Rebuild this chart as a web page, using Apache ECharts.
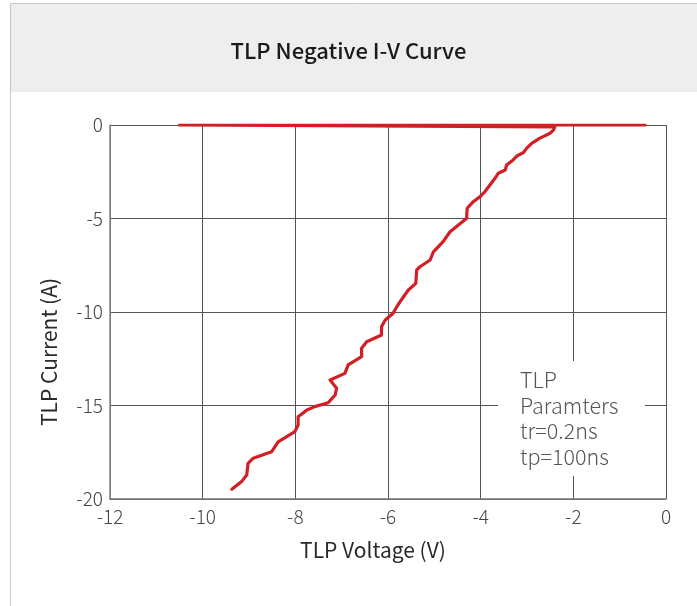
<!DOCTYPE html>
<html>
<head>
<meta charset="utf-8">
<script src="https://cdn.jsdelivr.net/npm/echarts@6/dist/echarts.min.js"></script>
<style>
html,body{margin:0;padding:0;background:#fff;}
#c{width:697px;height:606px;}
</style>
</head>
<body>
<div id="c"></div>
<script>
var voltage = [-0.45, -10.5, -2.4, -2.38, -2.43, -2.50, -2.72, -2.90, -3.01, -3.08, -3.22, -3.30, -3.44, -3.47, -3.62, -3.69, -3.80, -3.91, -4.01, -4.16, -4.29, -4.30, -4.30, -4.66, -4.81, -5.02, -5.09, -5.31, -5.38, -5.40, -5.56, -5.74, -5.81, -5.89, -6.06, -6.14, -6.14, -6.46, -6.57, -6.57, -6.86, -6.93, -7.25, -7.11, -7.14, -7.29, -7.58, -7.75, -7.94, -7.94, -8.01, -8.37, -8.51, -8.91, -9.02, -9.05, -9.16, -9.37];
var current = [0, 0, -0.1, -0.18, -0.27, -0.44, -0.70, -0.98, -1.25, -1.48, -1.66, -1.87, -2.14, -2.41, -2.58, -2.85, -3.21, -3.57, -3.83, -4.10, -4.45, -4.81, -4.99, -5.71, -6.24, -6.78, -7.22, -7.58, -7.75, -8.47, -8.82, -9.45, -9.72, -10.07, -10.43, -10.79, -11.23, -11.59, -11.94, -12.39, -12.83, -13.28, -13.64, -14.08, -14.44, -14.85, -15.06, -15.24, -15.60, -16.04, -16.40, -16.94, -17.47, -17.82, -18.09, -18.72, -19.07, -19.48];
var xTicks = [-12, -10, -8, -6, -4, -2, 0];
var yTicks = [0, -5, -10, -15, -20];
var noteLines = ['TLP', 'Paramters', 'tr=0.2ns', 'tp=100ns'];
var xName = 'TLP Voltage (V)';
var yName = 'TLP Current (A)';

var pts = voltage.map(function (v, i) { return [v, current[i]]; });
var FONT = '"Noto Sans CJK SC", "Noto Sans", sans-serif';

var chart = echarts.init(document.getElementById('c'), null, {renderer: 'canvas'});
chart.setOption({
  animation: false,
  backgroundColor: '#ffffff',
  title: {
    text: 'TLP Negative I-V Curve',
    left: 'center',
    top: 35,
    textStyle: {fontFamily: FONT, fontSize: 22, fontWeight: 500, color: '#1a1a1a'}
  },
  grid: {left: 110, right: 31, top: 125, bottom: 107},
  xAxis: {
    type: 'value', min: xTicks[0], max: xTicks[xTicks.length - 1], interval: 2,
    name: '',
    axisLine: {show: true, onZero: false, lineStyle: {color: '#777', width: 1.5}},
    axisTick: {show: false},
    axisLabel: {fontFamily: FONT, fontSize: 19, fontWeight: 300, color: '#444', margin: 8},
    splitLine: {show: true, lineStyle: {color: '#555', width: 1}}
  },
  yAxis: {
    type: 'value', min: yTicks[yTicks.length - 1], max: yTicks[0], interval: 5,
    name: '',
    axisLine: {show: true, onZero: false, lineStyle: {color: '#888', width: 1.5}},
    axisTick: {show: false},
    axisLabel: {fontFamily: FONT, fontSize: 19, fontWeight: 300, color: '#444', margin: 7},
    splitLine: {show: true, lineStyle: {color: '#555', width: 1}}
  },
  graphic: [
    {type: 'rect', z: -10, silent: true, shape: {x: 10.5, y: 3.5, width: 700, height: 620}, style: {fill: '#fff', stroke: '#c8c8c8', lineWidth: 1}},
    {type: 'rect', z: -9, silent: true, shape: {x: 11, y: 4, width: 700, height: 88}, style: {fill: '#eeeeee'}},
    {type: 'text', z: 6, silent: true, x: 373, y: 550,
      style: {text: xName, fontFamily: FONT, fontSize: 21, fill: '#2a2a2a', textAlign: 'center', textVerticalAlign: 'middle'}},
    {type: 'text', z: 6, silent: true, x: 49, y: 352, rotation: Math.PI / 2,
      style: {text: yName, fontFamily: FONT, fontSize: 21, fill: '#2a2a2a', textAlign: 'center', textVerticalAlign: 'middle'}},
    {type: 'rect', z: 5, silent: true, shape: {x: 498, y: 361, width: 147, height: 115}, style: {fill: '#ffffff'}},
    {type: 'text', z: 6, silent: true, left: 520, top: 367,
      style: {text: noteLines.join('\n'), fontFamily: FONT, fontSize: 21.5, fontWeight: 300, lineHeight: 25.7, fill: '#555'}}
  ],
  series: [{
    type: 'line',
    data: pts,
    showSymbol: false,
    symbol: 'none',
    smooth: false,
    z: 10,
    lineStyle: {color: '#d21f26', width: 3.2, join: 'round', cap: 'round'}
  }]
});
</script>
</body>
</html>
